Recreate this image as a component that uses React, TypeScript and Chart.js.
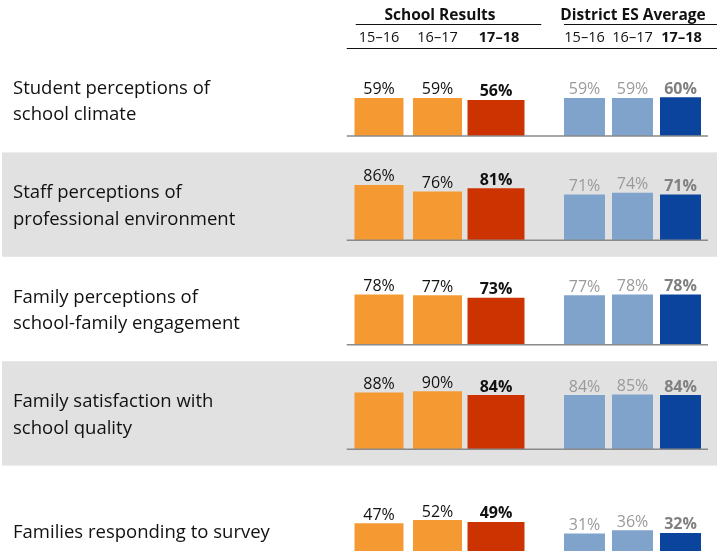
import { useEffect, useRef } from "react";
import { Chart, registerables } from "chart.js";

Chart.register(...registerables);

// ---- data ----
const rowLabels: string[][] = [
  ["Student perceptions of", "school climate"],
  ["Staff perceptions of", "professional environment"],
  ["Family perceptions of", "school-family engagement"],
  ["Family satisfaction with", "school quality"],
  ["Families responding to survey"],
];
const years = ["15\u201316", "16\u201317", "17\u201318"];
const schoolTitle = "School Results";
const districtTitle = "District ES Average";

const school1516 = [59, 86, 78, 88, 47];
const school1617 = [59, 76, 77, 90, 52];
const school1718 = [56, 81, 73, 84, 49];
const district1516 = [59, 71, 77, 84, 31];
const district1617 = [59, 74, 78, 85, 36];
const district1718 = [60, 71, 78, 84, 32];

// ---- styles ----
const ORANGE = "#F59A33";
const RED = "#CD3300";
const LIGHT_BLUE = "#80A3CC";
const DARK_BLUE = "#0B449D";
const BAND = "#E1E1E1";
const FONT = "'Open Sans', 'DejaVu Sans', sans-serif";
const ROW_MIN = -25.5;
const ROW_MAX = 136.5;

export default function App() {
  const ref = useRef<HTMLCanvasElement | null>(null);

  useEffect(() => {
    document.body.style.margin = "0";
    const canvas = ref.current;
    if (!canvas) return;

    const datasets: any[] = [];
    rowLabels.forEach((_, r) => {
      const y = `y${r}`;
      datasets.push({
        xAxisID: "xs", yAxisID: y,
        data: [school1516[r], school1617[r], null],
        backgroundColor: ORANGE, barPercentage: 0.838,
        labelColor: "#111111", labelBold: false,
      });
      datasets.push({
        xAxisID: "xs", yAxisID: y,
        data: [null, null, school1718[r]],
        backgroundColor: RED, barPercentage: 0.974,
        labelColor: "#111111", labelBold: true,
      });
      datasets.push({
        xAxisID: "xd", yAxisID: y,
        data: [district1516[r], district1617[r], null],
        backgroundColor: LIGHT_BLUE, barPercentage: 0.854,
        labelColor: "#9A9A9A", labelBold: false,
      });
      datasets.push({
        xAxisID: "xd", yAxisID: y,
        data: [null, null, district1718[r]],
        backgroundColor: DARK_BLUE, barPercentage: 0.854,
        labelColor: "#808080", labelBold: true,
      });
    });

    const scales: any = {
      xs: { type: "category", axis: "x", labels: years, display: false, stack: "h", stackWeight: 175.5, position: "bottom", offset: true },
      gap: { type: "linear", axis: "x", display: false, stack: "h", stackWeight: 35.25, position: "bottom" },
      xd: { type: "category", axis: "x", labels: years, display: false, stack: "h", stackWeight: 144, position: "bottom", offset: true },
    };
    // the last row is cut by the bottom edge of the picture
    const lastWeight = 85.4 / 104.4;
    rowLabels.forEach((_, r) => {
      const isLast = r === rowLabels.length - 1;
      scales[`y${r}`] = {
        type: "linear", axis: "y",
        min: isLast ? ROW_MAX - (ROW_MAX - ROW_MIN) * lastWeight : ROW_MIN,
        max: ROW_MAX, display: false,
        stack: "v", stackWeight: isLast ? lastWeight : 1, position: "right",
      };
    });

    const backgroundPlugin = {
      id: "bands",
      beforeDatasetsDraw(chart: any) {
        const ctx = chart.ctx;
        ctx.save();
        rowLabels.forEach((_, r) => {
          const ys = chart.scales[`y${r}`];
          if (r % 2 === 1) {
            ctx.fillStyle = BAND;
            ctx.fillRect(2, ys.top, 715, ys.bottom - ys.top);
          }
        });
        ctx.restore();
      },
    };

    const decorPlugin = {
      id: "decor",
      afterDatasetsDraw(chart: any) {
        const ctx = chart.ctx;
        const xs = chart.scales.xs;
        const xd = chart.scales.xd;
        ctx.save();
        // baselines
        rowLabels.forEach((_, r) => {
          const ys = chart.scales[`y${r}`];
          const y0 = ys.getPixelForValue(0);
          ctx.strokeStyle = "#8A8A8A";
          ctx.lineWidth = 1.5;
          ctx.beginPath();
          ctx.moveTo(xs.left - 3, y0);
          ctx.lineTo(xd.right + 3.5, y0);
          ctx.stroke();
        });
        // value labels
        ctx.textAlign = "center";
        ctx.textBaseline = "alphabetic";
        chart.data.datasets.forEach((ds: any, i: number) => {
          const meta = chart.getDatasetMeta(i);
          meta.data.forEach((el: any, j: number) => {
            const v = ds.data[j];
            if (v === null || v === undefined) return;
            ctx.font = `${ds.labelBold ? "bold " : ""}16px ${FONT}`;
            ctx.fillStyle = ds.labelColor;
            ctx.fillText(`${v}%`, el.x, el.y - 3.5);
          });
        });
        // row labels
        ctx.textAlign = "left";
        ctx.fillStyle = "#111111";
        ctx.font = `18.5px ${FONT}`;
        rowLabels.forEach((lines, r) => {
          const ys = chart.scales[`y${r}`];
          const last = ys.getPixelForValue(ROW_MIN) - 32;
          lines.forEach((t, k) => {
            ctx.fillText(t, 13, last - (lines.length - 1 - k) * 26.5);
          });
        });
        // headers
        const top = chart.chartArea.top;
        ctx.textAlign = "center";
        ctx.font = `bold 15.5px ${FONT}`;
        ctx.fillText(schoolTitle, (xs.left + xs.right) / 2 + 2.5, 20);
        ctx.fillText(districtTitle, (xd.left + xd.right) / 2 + 0.5, 20);
        ctx.strokeStyle = "#111111";
        ctx.lineWidth = 1;
        ctx.beginPath();
        ctx.moveTo(xs.left + 6, 24.5);
        ctx.lineTo(xs.right + 16, 24.5);
        ctx.moveTo(xd.left + 3.5, 24.5);
        ctx.lineTo(xd.right + 12.5, 24.5);
        ctx.moveTo(xs.left - 3, top + 0.5);
        ctx.lineTo(xd.right + 12.5, top + 0.5);
        ctx.stroke();
        // year labels
        years.forEach((yr, i) => {
          const bold = i === years.length - 1;
          ctx.font = `${bold ? "bold " : ""}14.5px ${FONT}`;
          ctx.fillText(yr, xs.getPixelForValue(i) + (bold ? 3 : 0), 42);
          ctx.fillText(yr, xd.getPixelForValue(i) + (bold ? 1 : 0), 42);
        });
        ctx.restore();
      },
    };

    const chart = new Chart(canvas, {
      type: "bar",
      data: { labels: years, datasets },
      options: {
        responsive: false,
        animation: false,
        layout: { padding: { left: 349.75, right: 21.5, top: 48, bottom: 0 } },
        datasets: { bar: { grouped: false, categoryPercentage: 1, borderWidth: 0 } } as any,
        scales,
        plugins: {
          legend: { display: false },
          tooltip: { enabled: false },
          title: { display: false },
        },
        events: [],
      },
      plugins: [backgroundPlugin, decorPlugin],
    } as any);

    return () => chart.destroy();
  }, []);

  return <canvas ref={ref} width={726} height={551} style={{ display: "block" }} />;
}
